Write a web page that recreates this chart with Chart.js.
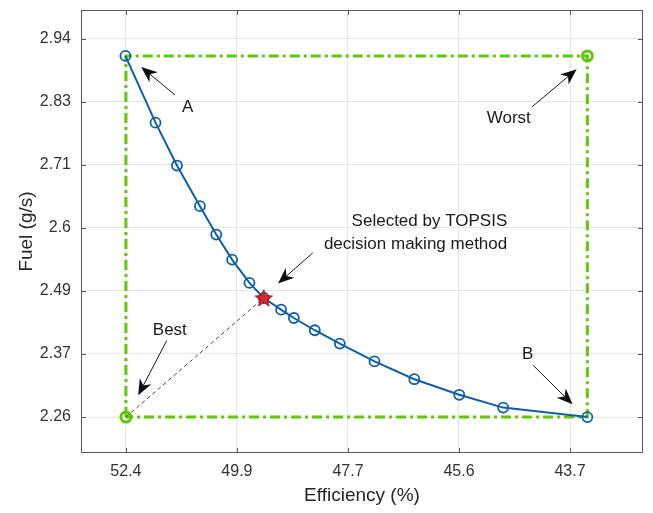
<!DOCTYPE html>
<html>
<head>
<meta charset="utf-8">
<script src="https://cdn.jsdelivr.net/npm/chart.js@4/dist/chart.umd.min.js"></script>
<style>
  html, body { margin: 0; padding: 0; background: #fff; }
  #wrap { width: 653px; height: 513px; }
</style>
</head>
<body>
<div id="wrap"><canvas id="chart"></canvas></div>
<script>
// ===== DATA =====
// Pareto front, efficiency (%) vs fuel (g/s)
const efficiency = [52.41, 51.82, 51.40, 50.95, 50.63, 50.32, 49.98, 49.70, 49.36, 49.11, 48.70, 48.21, 47.53, 46.75, 45.87, 45.01, 43.36];
const fuel       = [2.909, 2.789, 2.712, 2.639, 2.588, 2.543, 2.501, 2.474, 2.453, 2.438, 2.416, 2.392, 2.360, 2.328, 2.300, 2.277, 2.260];

// TOPSIS selection, ideal (best) and anti-ideal (worst) points
const selected = [49.70, 2.474];
const best = [52.40, 2.260];
const worst = [43.36, 2.909];

// tick labels as printed on the axes
const xTickLabels = ['52.4', '49.9', '47.7', '45.6', '43.7'];
const yTickLabels = ['2.26', '2.37', '2.49', '2.6', '2.71', '2.83', '2.94'];

// axis limits
const xRange = [42.27, 53.28];
const yRange = [2.1954, 2.9915];

// annotations: text, text anchor and arrow tail -> head, all in data units
const notes = [
  { lines: ['A'], at: [51.19, 2.817], align: 'center', from: [51.44, 2.839], to: [52.10, 2.889] },
  { lines: ['Worst'], at: [44.90, 2.797], align: 'center', from: [44.45, 2.817], to: [43.57, 2.885] },
  { lines: ['Selected by TOPSIS', 'decision making method'], at: [44.93, 2.6115], align: 'right', from: [48.74, 2.555], to: [49.42, 2.500] },
  { lines: ['Best'], at: [51.54, 2.4167], align: 'center', from: [51.60, 2.3975], to: [52.16, 2.299] },
  { lines: ['B'], at: [44.53, 2.3724], align: 'center', from: [44.42, 2.3527], to: [43.65, 2.2828] }
];

// ===== STYLE =====
const BLUE = '#0f5fa6';
const GREEN = '#62c60a';
const FONT = "'Liberation Sans', Arial, sans-serif";

// evenly spaced tick positions between first and last labels
function tickValues(labels) {
  const a = parseFloat(labels[0]);
  const b = parseFloat(labels[labels.length - 1]);
  return labels.map((_, i) => a + i * (b - a) / (labels.length - 1));
}
const xTicks = tickValues(xTickLabels);
const yTicks = tickValues(yTickLabels);

// filled red star used as point style
function makeStar(r) {
  const c = document.createElement('canvas');
  const s = Math.ceil(r * 2 + 4);
  c.width = s; c.height = s;
  const g = c.getContext('2d');
  g.beginPath();
  for (let i = 0; i < 10; i++) {
    const rad = i % 2 === 0 ? r : r * 0.42;
    const a = -Math.PI / 2 + i * Math.PI / 5;
    const px = s / 2 + rad * Math.cos(a);
    const py = s / 2 + rad * Math.sin(a) + 0.8;
    if (i === 0) g.moveTo(px, py); else g.lineTo(px, py);
  }
  g.closePath();
  g.fillStyle = '#e0252a';
  g.fill();
  g.lineWidth = 1;
  g.strokeStyle = '#a01010';
  g.stroke();
  return c;
}

const toXY = (xs, ys) => xs.map((x, i) => ({ x: x, y: ys[i] }));

// box, inward ticks and arrows
const decorPlugin = {
  id: 'decor',
  afterDatasetsDraw(chart) {
    const ctx = chart.ctx;
    const a = chart.chartArea;
    const sx = chart.scales.x, sy = chart.scales.y;
    ctx.save();
    ctx.strokeStyle = '#5a5a5a';
    ctx.lineWidth = 1;
    ctx.strokeRect(a.left + 0.5, a.top + 0.5, a.right - a.left - 1, a.bottom - a.top - 1);
    ctx.beginPath();
    xTicks.forEach(v => {
      const px = Math.round(sx.getPixelForValue(v)) + 0.5;
      ctx.moveTo(px, a.bottom); ctx.lineTo(px, a.bottom - 5);
      ctx.moveTo(px, a.top); ctx.lineTo(px, a.top + 5);
    });
    yTicks.forEach(v => {
      const py = Math.round(sy.getPixelForValue(v)) + 0.5;
      ctx.moveTo(a.left, py); ctx.lineTo(a.left + 5, py);
      ctx.moveTo(a.right, py); ctx.lineTo(a.right - 5, py);
    });
    ctx.stroke();

    notes.forEach(n => {
      const x0 = sx.getPixelForValue(n.from[0]), y0 = sy.getPixelForValue(n.from[1]);
      const x1 = sx.getPixelForValue(n.to[0]), y1 = sy.getPixelForValue(n.to[1]);
      const ang = Math.atan2(y1 - y0, x1 - x0);
      const L = 16, W = 6.5;
      ctx.strokeStyle = '#1a1a1a';
      ctx.fillStyle = '#0d0d0d';
      ctx.lineWidth = 1;
      ctx.beginPath();
      ctx.moveTo(x0, y0);
      ctx.lineTo(x1 - L * 0.7 * Math.cos(ang), y1 - L * 0.7 * Math.sin(ang));
      ctx.stroke();
      const bx = x1 - L * Math.cos(ang), by = y1 - L * Math.sin(ang);
      const nx = x1 - L * 0.7 * Math.cos(ang), ny = y1 - L * 0.7 * Math.sin(ang);
      ctx.beginPath();
      ctx.moveTo(x1, y1);
      ctx.lineTo(bx + W * Math.sin(ang), by - W * Math.cos(ang));
      ctx.lineTo(nx, ny);
      ctx.lineTo(bx - W * Math.sin(ang), by + W * Math.cos(ang));
      ctx.closePath();
      ctx.fill();

      ctx.font = '17px ' + FONT;
      ctx.fillStyle = '#1a1a1a';
      ctx.textAlign = n.align;
      ctx.textBaseline = 'middle';
      const tx = sx.getPixelForValue(n.at[0]), ty = sy.getPixelForValue(n.at[1]);
      n.lines.forEach((t, i) => ctx.fillText(t, tx, ty + i * 22.5));
    });
    ctx.restore();
  }
};

const ctx = document.getElementById('chart').getContext('2d');
new Chart(ctx, {
  type: 'scatter',
  data: {
    datasets: [
      {
        label: 'Selected',
        data: [{ x: selected[0], y: selected[1] }],
        pointStyle: makeStar(9),
        pointRadius: 9,
        showLine: false,
        order: 0
      },
      {
        label: 'Pareto front',
        data: toXY(efficiency, fuel),
        showLine: true,
        borderColor: BLUE,
        borderWidth: 2,
        pointRadius: 5,
        pointBorderWidth: 1.8,
        pointBorderColor: BLUE,
        pointBackgroundColor: 'rgba(0,0,0,0)',
        order: 1
      },
      {
        label: 'Distance',
        data: [{ x: best[0], y: best[1] }, { x: selected[0], y: selected[1] }],
        showLine: true,
        borderColor: '#444',
        borderWidth: 1,
        borderDash: [4, 3],
        pointRadius: 0,
        order: 2
      },
      {
        label: 'Bounds',
        data: [
          { x: best[0], y: best[1] },
          { x: best[0], y: worst[1] },
          { x: worst[0], y: worst[1] },
          { x: worst[0], y: best[1] },
          { x: best[0], y: best[1] }
        ],
        showLine: true,
        borderColor: GREEN,
        borderWidth: 3,
        borderDash: [10, 4, 3, 4],
        pointRadius: [5, 0, 5, 0, 0],
        pointBorderWidth: 3,
        pointBorderColor: GREEN,
        pointBackgroundColor: 'rgba(0,0,0,0)',
        order: 3
      }
    ]
  },
  options: {
    responsive: true,
    maintainAspectRatio: false,
    animation: false,
    layout: { padding: { top: 9, right: 9, left: 0, bottom: 0 } },
    plugins: {
      legend: { display: false },
      tooltip: { enabled: false }
    },
    scales: {
      x: {
        type: 'linear',
        reverse: true,
        min: xRange[0],
        max: xRange[1],
        afterBuildTicks: s => { s.ticks = xTicks.map(v => ({ value: v })); },
        afterFit: s => { s.height = 60; s.paddingLeft = 0; s.paddingRight = 0; },
        ticks: {
          padding: 9,
          color: '#333',
          font: { family: FONT, size: 16 },
          callback: (v, i) => xTickLabels[i]
        },
        grid: { color: '#e6e6e6', drawTicks: false },
        border: { display: false },
        title: {
          display: true,
          text: 'Efficiency (%)',
          color: '#262626',
          font: { family: FONT, size: 19 },
          padding: { top: 0, bottom: 6 }
        }
      },
      y: {
        type: 'linear',
        min: yRange[0],
        max: yRange[1],
        afterBuildTicks: s => { s.ticks = yTicks.map(v => ({ value: v })); },
        afterFit: s => { s.width = 81; s.paddingTop = 0; s.paddingBottom = 0; },
        ticks: {
          padding: 10,
          color: '#333',
          font: { family: FONT, size: 16 },
          callback: (v, i) => yTickLabels[i]
        },
        grid: { color: '#e6e6e6', drawTicks: false },
        border: { display: false },
        title: {
          display: true,
          text: 'Fuel (g/s)',
          color: '#262626',
          font: { family: FONT, size: 19 },
          padding: { top: 15, bottom: 0 }
        }
      }
    }
  },
  plugins: [decorPlugin]
});
</script>
</body>
</html>
